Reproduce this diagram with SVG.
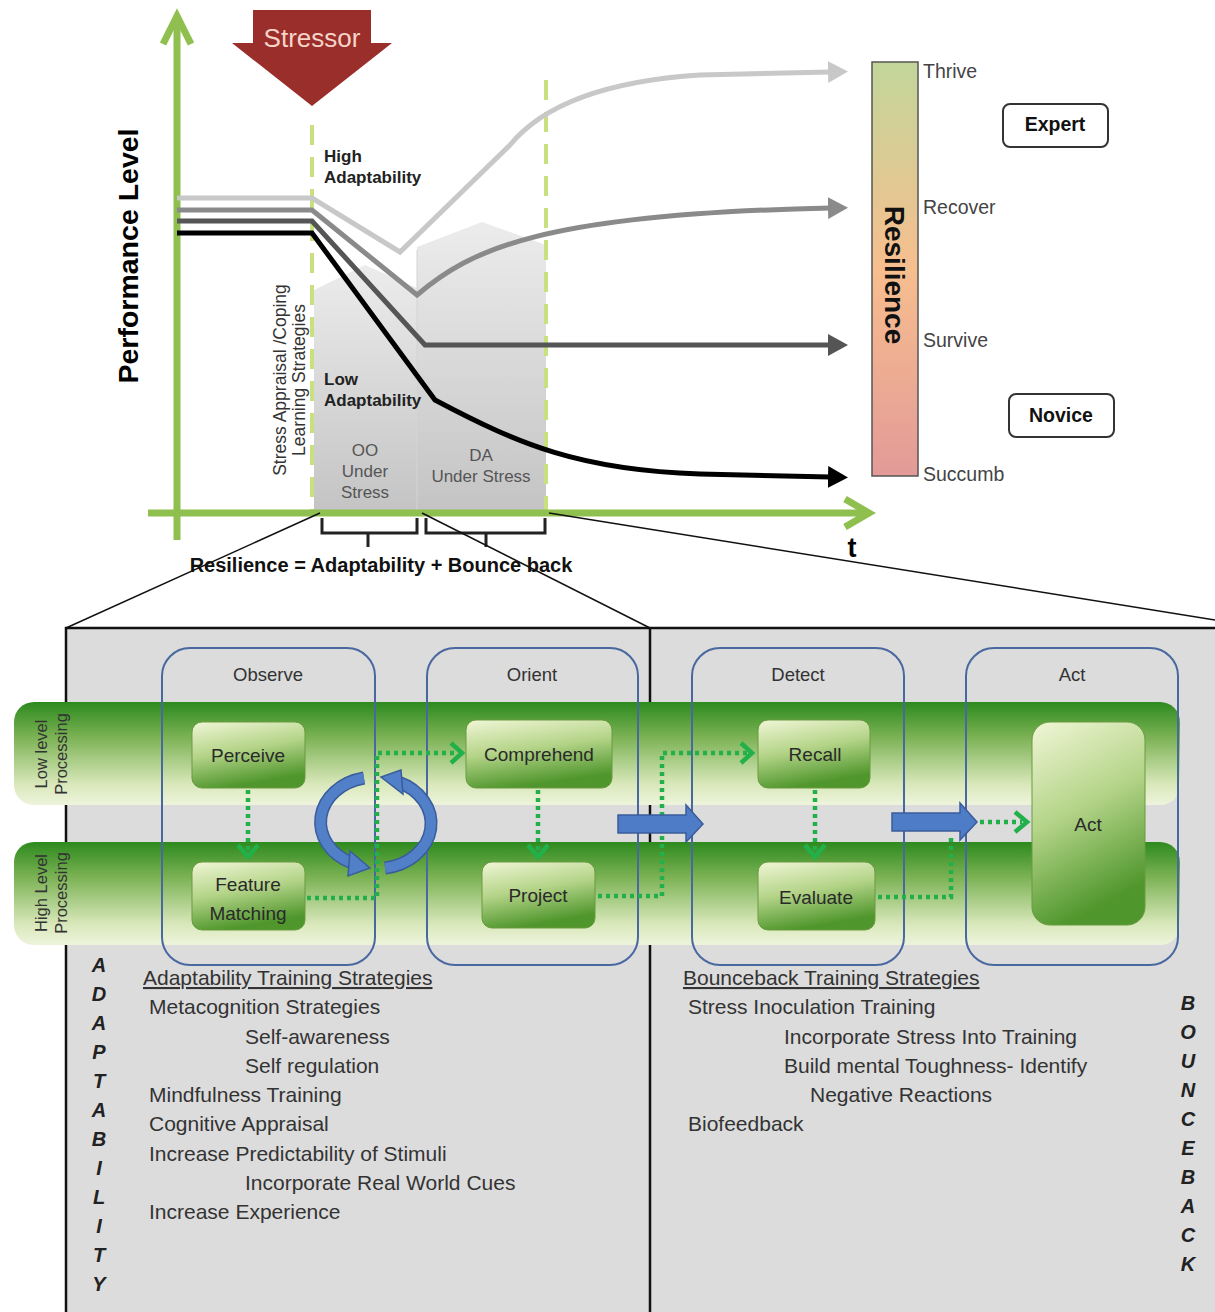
<svg xmlns="http://www.w3.org/2000/svg" width="1215" height="1312" viewBox="0 0 1215 1312">
<defs>
<style>
.sans{font-family:"Liberation Sans",Arial,sans-serif}
.lbl{font-family:"Liberation Sans",Arial,sans-serif;font-size:19.5px;fill:#444}
.bold{font-weight:bold}
.ph{font-family:"Liberation Sans",Arial,sans-serif;font-size:18.5px;fill:#333;text-anchor:middle}
.nd{font-family:"Liberation Sans",Arial,sans-serif;font-size:19px;fill:#2a2a2a;text-anchor:middle}
.list{font-family:"Liberation Sans",Arial,sans-serif;font-size:21px;fill:#333}
.vert{font-family:"Liberation Sans",Arial,sans-serif;font-size:20px;font-weight:bold;font-style:italic;fill:#222;text-anchor:middle}
.axis{stroke:#8fbf4f;stroke-width:7;fill:none}
.dash{stroke:#c9e07e;stroke-width:4;stroke-dasharray:20 12;fill:none}
.dot{stroke:#22b04a;stroke-width:4.5;stroke-dasharray:4 4;fill:none}
.chev{stroke:#22b04a;stroke-width:4.5;fill:none}
.phase{fill:none;stroke:#4a68a0;stroke-width:2}
.node{fill:url(#nodeG);stroke:#6a9a40;stroke-width:1}
.band{fill:url(#bandG)}
.blue{fill:#4e7cc6;stroke:#3a5c9c;stroke-width:1.5}
.zoomln{stroke:#111;stroke-width:1.5;fill:none}
</style>
<linearGradient id="bandG" x1="0" y1="0" x2="0" y2="1">
<stop offset="0" stop-color="#2d8a1e"/>
<stop offset="0.35" stop-color="#7db356"/>
<stop offset="0.8" stop-color="#d9e8bb"/>
<stop offset="1" stop-color="#eef4dc"/>
</linearGradient>
<linearGradient id="nodeG" x1="0" y1="0" x2="0.3" y2="1">
<stop offset="0" stop-color="#f0f6d6"/>
<stop offset="0.5" stop-color="#b4d488"/>
<stop offset="1" stop-color="#4f962c"/>
</linearGradient>
<linearGradient id="resG" x1="0" y1="0" x2="0" y2="1">
<stop offset="0" stop-color="#c2d69a"/>
<stop offset="0.5" stop-color="#f7be8e"/>
<stop offset="1" stop-color="#e39a98"/>
</linearGradient>
<linearGradient id="grayG" x1="0" y1="0" x2="0" y2="1">
<stop offset="0" stop-color="#ececec"/>
<stop offset="1" stop-color="#c4c4c4"/>
</linearGradient>
<marker id="mLight" markerWidth="20" markerHeight="24" refX="2" refY="12" orient="auto" markerUnits="userSpaceOnUse"><path d="M0,1 L20,12 L0,23 Z" fill="#c8c8c8"/></marker>
<marker id="mMid" markerWidth="20" markerHeight="24" refX="2" refY="12" orient="auto" markerUnits="userSpaceOnUse"><path d="M0,1 L20,12 L0,23 Z" fill="#8a8a8a"/></marker>
<marker id="mDark" markerWidth="20" markerHeight="24" refX="2" refY="12" orient="auto" markerUnits="userSpaceOnUse"><path d="M0,1 L20,12 L0,23 Z" fill="#555555"/></marker>
<marker id="mBlack" markerWidth="20" markerHeight="24" refX="2" refY="12" orient="auto" markerUnits="userSpaceOnUse"><path d="M0,1 L20,12 L0,23 Z" fill="#000"/></marker>
</defs>
<rect width="1215" height="1312" fill="#fff"/>

<!-- ===== Top chart ===== -->
<g id="chart">
<polygon points="314,290 365,265 417,288 417,510 314,510" fill="url(#grayG)"/>
<polygon points="417,247 482,222 546,245 546,510 417,510" fill="url(#grayG)"/>
<line x1="417" y1="250" x2="417" y2="510" stroke="#d4d4d4" stroke-width="1"/>
<line class="dash" x1="312" y1="125" x2="312" y2="512"/>
<line class="dash" x1="546" y1="80" x2="546" y2="512"/>
<line class="axis" x1="177" y1="540" x2="177" y2="16"/>
<polyline class="axis" points="163,44 177,16 191,44"/>
<line class="axis" x1="148" y1="513" x2="868" y2="513"/>
<polyline class="axis" points="845,499 869,513 845,527"/>
<path d="M177,198 L312,198 L400,252 L510,145 Q560,84 700,75 L830,72" fill="none" stroke="#c8c8c8" stroke-width="5" marker-end="url(#mLight)"/>
<path d="M177,210 L312,210 L417,295 C470,250 540,214 830,208" fill="none" stroke="#8a8a8a" stroke-width="5" marker-end="url(#mMid)"/>
<path d="M177,221 L312,221 L425,345 L830,345" fill="none" stroke="#555" stroke-width="5" marker-end="url(#mDark)"/>
<path d="M177,233 L312,233 L435,400 C520,445 580,470 700,474 L830,477" fill="none" stroke="#000" stroke-width="5" marker-end="url(#mBlack)"/>
<text class="sans bold" font-size="28.5" fill="#000" transform="translate(138,256) rotate(-90)" text-anchor="middle">Performance Level</text>
<text class="sans bold" font-size="27" fill="#000" x="852" y="557" text-anchor="middle">t</text>
<text class="sans bold" font-size="17" fill="#222"><tspan x="324" y="162">High</tspan><tspan x="324" y="183">Adaptability</tspan></text>
<text class="sans bold" font-size="17" fill="#222"><tspan x="324" y="385">Low</tspan><tspan x="324" y="406">Adaptability</tspan></text>
<text class="sans" font-size="17.5" fill="#333" text-anchor="middle" transform="translate(286,380) rotate(-90)"><tspan x="0" y="0">Stress Appraisal /Coping</tspan><tspan x="0" y="19">Learning Strategies</tspan></text>
<text class="sans" font-size="17" fill="#555" text-anchor="middle"><tspan x="365" y="456">OO</tspan><tspan x="365" y="477">Under</tspan><tspan x="365" y="498">Stress</tspan></text>
<text class="sans" font-size="17" fill="#555" text-anchor="middle"><tspan x="481" y="461">DA</tspan><tspan x="481" y="482">Under Stress</tspan></text>
<path d="M322,518 L322,533 L417,533 L417,518 M368,533 L368,547" fill="none" stroke="#222" stroke-width="3"/>
<path d="M426,518 L426,533 L545,533 L545,518 M486,533 L486,547" fill="none" stroke="#222" stroke-width="3"/>
<text class="sans bold" font-size="20" fill="#111" x="381" y="572" text-anchor="middle">Resilience = Adaptability + Bounce back</text>
</g>

<g id="stressor">
<polygon points="253,10 371,10 371,43 392,43 312,106 232,43 253,43" fill="#9a2e2b"/>
<text class="sans" font-size="26" fill="#f6d4c8" x="312" y="47" text-anchor="middle">Stressor</text>
</g>

<g id="resilience">
<rect x="872" y="62" width="46" height="414" fill="url(#resG)" stroke="#555" stroke-width="1.5"/>
<text class="sans bold" font-size="28" fill="#111" transform="translate(885,275) rotate(90)" text-anchor="middle">Resilience</text>
<text class="lbl" x="923" y="78">Thrive</text>
<text class="lbl" x="923" y="214">Recover</text>
<text class="lbl" x="923" y="347">Survive</text>
<text class="lbl" x="923" y="481">Succumb</text>
</g>
<g id="expert">
<rect x="1003" y="104" width="105" height="43" rx="7" fill="#fff" stroke="#333" stroke-width="2"/>
<text class="sans bold" font-size="19.5" fill="#111" x="1055" y="131" text-anchor="middle">Expert</text>
</g>
<g id="novice">
<rect x="1009" y="394" width="105" height="43" rx="7" fill="#fff" stroke="#333" stroke-width="2"/>
<text class="sans bold" font-size="19.5" fill="#111" x="1061" y="422" text-anchor="middle">Novice</text>
</g>

<!-- ===== Lower panel ===== -->
<g id="panel">
<rect x="66" y="628" width="1160" height="700" fill="#dcdcdc" stroke="#111" stroke-width="2.5"/>
<line x1="650" y1="628" x2="650" y2="1312" stroke="#111" stroke-width="2.5"/>
</g>
<g id="lane-low">
<rect class="band" x="14" y="702" width="1166" height="103" rx="20"/>
<text class="sans" font-size="16.5" fill="#333" text-anchor="middle" transform="translate(47,754) rotate(-90)"><tspan x="0" y="0">Low level</tspan><tspan x="0" y="20">Processing</tspan></text>
</g>
<g id="lane-high">
<rect class="band" x="14" y="842" width="1166" height="103" rx="20"/>
<text class="sans" font-size="16.5" fill="#333" text-anchor="middle" transform="translate(47,893) rotate(-90)"><tspan x="0" y="0">High Level</tspan><tspan x="0" y="20">Processing</tspan></text>
</g>

<g id="phase-observe"><rect class="phase" x="162" y="648" width="213" height="317" rx="28"/><text class="ph" x="268" y="681">Observe</text></g>
<g id="phase-orient"><rect class="phase" x="427" y="648" width="211" height="317" rx="28"/><text class="ph" x="532" y="681">Orient</text></g>
<g id="phase-detect"><rect class="phase" x="692" y="648" width="212" height="317" rx="28"/><text class="ph" x="798" y="681">Detect</text></g>
<g id="phase-act"><rect class="phase" x="966" y="648" width="212" height="317" rx="28"/><text class="ph" x="1072" y="681">Act</text></g>

<g id="connectors">
<line class="zoomln" x1="320" y1="513" x2="66" y2="628"/>
<line class="zoomln" x1="422" y1="513" x2="650" y2="628"/>
<line class="zoomln" x1="549" y1="513" x2="1215" y2="620"/>
<polyline class="dot" points="248,790 248,852"/>
<polyline class="chev" points="238,845 248,857 258,845"/>
<polyline class="dot" points="307,898 377,898 377,753 458,753"/>
<polyline class="chev" points="451,743 462,753 451,763"/>
<polyline class="dot" points="538,790 538,852"/>
<polyline class="chev" points="528,845 538,857 548,845"/>
<polyline class="dot" points="598,896 662,896 662,753 748,753"/>
<polyline class="chev" points="741,743 752,753 741,763"/>
<polyline class="dot" points="815,790 815,852"/>
<polyline class="chev" points="805,845 815,857 825,845"/>
<polyline class="dot" points="878,897 951,897 951,836"/>
<polyline class="dot" points="980,822 1022,822"/>
<polyline class="chev" points="1015,812 1027,822 1015,832"/>
<polygon class="blue" points="618,815 686,815 686,805 703,824 686,842 686,833 618,833"/>
<polygon class="blue" points="892,813 960,813 960,803 977,822 960,840 960,831 892,831"/>
<path d="M364,778 A54,45 0 0 0 352,863" fill="none" stroke="#3a5c9c" stroke-width="13"/>
<path d="M364,778 A54,45 0 0 0 352,863" fill="none" stroke="#5180c8" stroke-width="10"/>
<polygon points="350,851 370,868 348,876" fill="#5180c8" stroke="#3a5c9c" stroke-width="1.5"/>
<path d="M385,868 A54,45 0 0 0 398,782" fill="none" stroke="#3a5c9c" stroke-width="13"/>
<path d="M385,868 A54,45 0 0 0 398,782" fill="none" stroke="#5180c8" stroke-width="10"/>
<polygon points="401,770 381,777 403,794" fill="#5180c8" stroke="#3a5c9c" stroke-width="1.5"/>
</g>

<g id="node-perceive"><rect class="node" x="192" y="722" width="113" height="66" rx="10"/><text class="nd" x="248" y="762">Perceive</text></g>
<g id="node-feature"><rect class="node" x="192" y="862" width="113" height="68" rx="10"/><text class="nd"><tspan x="248" y="891">Feature</tspan><tspan x="248" y="920">Matching</tspan></text></g>
<g id="node-comprehend"><rect class="node" x="466" y="720" width="146" height="68" rx="10"/><text class="nd" x="539" y="761">Comprehend</text></g>
<g id="node-project"><rect class="node" x="482" y="862" width="113" height="66" rx="10"/><text class="nd" x="538" y="902">Project</text></g>
<g id="node-recall"><rect class="node" x="758" y="720" width="112" height="68" rx="10"/><text class="nd" x="815" y="761">Recall</text></g>
<g id="node-evaluate"><rect class="node" x="758" y="862" width="117" height="68" rx="10"/><text class="nd" x="816" y="904">Evaluate</text></g>
<g id="node-act"><rect class="node" x="1032" y="722" width="113" height="203" rx="18"/><text class="nd" x="1088" y="831">Act</text></g>

<g id="adaptability-text">
<text class="vert"><tspan x="99" y="972">A</tspan><tspan x="99" y="1001">D</tspan><tspan x="99" y="1030">A</tspan><tspan x="99" y="1059">P</tspan><tspan x="99" y="1088">T</tspan><tspan x="99" y="1117">A</tspan><tspan x="99" y="1146">B</tspan><tspan x="99" y="1175">I</tspan><tspan x="99" y="1204">L</tspan><tspan x="99" y="1233">I</tspan><tspan x="99" y="1262">T</tspan><tspan x="99" y="1291">Y</tspan></text>
<text class="list" x="143" y="985" text-decoration="underline">Adaptability Training Strategies</text>
<text class="list" x="149" y="1014">Metacognition Strategies</text>
<text class="list" x="245" y="1044">Self-awareness</text>
<text class="list" x="245" y="1073">Self regulation</text>
<text class="list" x="149" y="1102">Mindfulness Training</text>
<text class="list" x="149" y="1131">Cognitive Appraisal</text>
<text class="list" x="149" y="1161">Increase Predictability of Stimuli</text>
<text class="list" x="245" y="1190">Incorporate Real World Cues</text>
<text class="list" x="149" y="1219">Increase Experience</text>
</g>
<g id="bounceback-text">
<text class="vert"><tspan x="1188" y="1010">B</tspan><tspan x="1188" y="1039">O</tspan><tspan x="1188" y="1068">U</tspan><tspan x="1188" y="1097">N</tspan><tspan x="1188" y="1126">C</tspan><tspan x="1188" y="1155">E</tspan><tspan x="1188" y="1184">B</tspan><tspan x="1188" y="1213">A</tspan><tspan x="1188" y="1242">C</tspan><tspan x="1188" y="1271">K</tspan></text>
<text class="list" x="683" y="985" text-decoration="underline">Bounceback Training Strategies</text>
<text class="list" x="688" y="1014">Stress Inoculation Training</text>
<text class="list" x="784" y="1044">Incorporate Stress Into Training</text>
<text class="list" x="784" y="1073">Build mental Toughness- Identify</text>
<text class="list" x="810" y="1102">Negative Reactions</text>
<text class="list" x="688" y="1131">Biofeedback</text>
</g>
</svg>
